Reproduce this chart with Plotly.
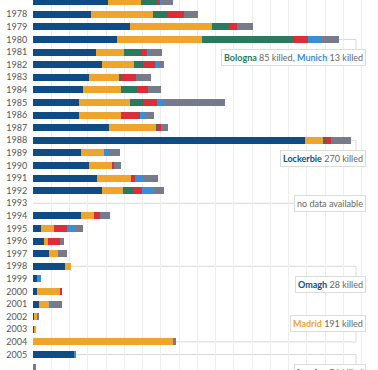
import plotly.graph_objects as go

# ---- data (deaths per year, Western Europe, by country) ----
years = [1977, 1978, 1979, 1980, 1981, 1982, 1983, 1984, 1985, 1986,
         1987, 1988, 1989, 1990, 1991, 1992, 1993, 1994, 1995, 1996,
         1997, 1998, 1999, 2000, 2001, 2002, 2003, 2004, 2005, 2006]
year_labels = [str(y) for y in years]

uk      = [103, 80, 133, 115, 86, 95, 77, 69, 63, 63, 104, 372, 66, 77, 88, 94, None, 66, 11, 15, 22, 44, 6, 6, 8, 1, 1, 0, 56, 0]
spain   = [45, 84, 112, 117, 39, 43, 42, 51, 70, 58, 65, 25, 31, 32, 46, 29, None, 18, 18, 5, 12, 8, 0, 31, 14, 5, 3, 192, 0, 0]
italy   = [24, 21, 24, 125, 24, 12, 1, 23, 19, 0, 2, 5, 0, 0, 0, 16, None, 0, 0, 0, 0, 0, 0, 0, 0, 0, 0, 0, 0, 0]
france  = [2, 22, 11, 20, 8, 17, 21, 15, 18, 25, 5, 6, 0, 2, 6, 10, None, 8, 18, 17, 0, 0, 0, 3, 0, 0, 0, 0, 0, 0]
germany = [3, 0, 0, 18, 2, 5, 0, 0, 9, 9, 1, 0, 7, 0, 11, 17, None, 0, 12, 0, 0, 0, 5, 0, 3, 0, 0, 0, 3, 0]
other   = [15, 19, 21, 24, 18, 7, 21, 17, 84, 11, 8, 27, 15, 10, 20, 13, None, 13, 10, 6, 13, 0, 0, 0, 15, 2, 0, 4, 0, 4]

series_names = ["United Kingdom", "Spain", "Italy", "France", "Germany", "Other"]
series_values = [uk, spain, italy, france, germany, other]
series_colors = ["#0f4c85", "#efa52b", "#2b7a5e", "#dd2e38", "#3a8ed5", "#777a8b"]

# annotated events: (year, html text, placement)
C_UK, C_ES, C_IT, C_DE = series_colors[0], series_colors[1], series_colors[2], series_colors[4]
GREY_TXT = "#666666"
events = [
    (1980, f"<b><span style='color:{C_IT}'>Bologna</span></b> 85 killed, <b><span style='color:{C_DE}'>Munich</span></b> 13 killed", "below"),
    (1988, f"<b><span style='color:{C_UK}'>Lockerbie</span></b> 270 killed", "below"),
    (1993, "no data available", "center"),
    (1998, f"<b><span style='color:{C_UK}'>Omagh</span></b> 28 killed", "below"),
    (2004, f"<b><span style='color:{C_ES}'>Madrid</span></b> 191 killed", "above"),
    (2005, f"<b><span style='color:{C_UK}'>London</span></b> 56 killed", "below"),
]

# ---- figure ----
fig = go.Figure()
for name, vals, col in zip(series_names, series_values, series_colors):
    fig.add_trace(go.Bar(
        y=years, x=vals, name=name, orientation="h",
        marker=dict(color=col, line=dict(width=0)),
        width=0.56,
    ))

def total(y):
    i = years.index(y)
    return sum((v[i] or 0) for v in series_values)

X_CONN = 442.5
X_BOX_RIGHT = 456
OFF = 0.74
LINE = dict(color="#d9d9d9", width=1)

shapes = []
annotations = []
for yr, txt, place in events:
    if place == "center":
        shapes.append(dict(type="line", x0=0, x1=X_CONN, y0=yr, y1=yr, line=LINE, layer="below"))
        annotations.append(dict(x=X_BOX_RIGHT, y=yr, xanchor="right", yanchor="middle", text=txt))
        continue
    t = total(yr)
    shapes.append(dict(type="line", x0=t, x1=X_CONN, y0=yr, y1=yr, line=LINE, layer="below"))
    if place == "below":
        y_box = yr + OFF
        shapes.append(dict(type="line", x0=X_CONN, x1=X_CONN, y0=yr, y1=y_box + 0.5, line=LINE, layer="below"))
        annotations.append(dict(x=X_BOX_RIGHT, y=y_box, xanchor="right", yanchor="top", text=txt))
    else:
        y_box = yr - OFF - 0.05
        shapes.append(dict(type="line", x0=X_CONN, x1=X_CONN, y0=yr, y1=y_box - 0.5, line=LINE, layer="below"))
        annotations.append(dict(x=X_BOX_RIGHT, y=y_box, xanchor="right", yanchor="bottom", text=txt))

for a in annotations:
    a.update(xref="x", yref="y", showarrow=False, align="left",
             font=dict(family="Lato", size=9, color=GREY_TXT),
             bgcolor="#ffffff", bordercolor="#dcdcdc", borderwidth=1, borderpad=2)

fig.update_layout(
    width=378, height=370,
    margin=dict(l=33, r=0, t=0, b=0),
    barmode="stack",
    showlegend=False,
    plot_bgcolor="#ffffff",
    paper_bgcolor="#ffffff",
    shapes=shapes,
    annotations=annotations,
    font=dict(family="Lato"),
)
fig.update_xaxes(range=[0, 472.6], dtick=25, tick0=0, showgrid=True, gridcolor="#eeeeee",
                 gridwidth=1, zeroline=False, showticklabels=False, showline=False, fixedrange=True)
fig.update_yaxes(range=[2006.23, 1976.865], tickmode="array", tickvals=years, ticktext=year_labels,
                 showgrid=False, zeroline=False, showline=False, automargin=False,
                 ticks="outside", ticklen=3, tickcolor="rgba(0,0,0,0)",
                 tickfont=dict(family="Lato", size=9, color="#555555"), fixedrange=True)

fig.write_html("out.html", config={"displayModeBar": False},
               post_script="document.body.style.margin='0';document.body.style.overflow='hidden';")
